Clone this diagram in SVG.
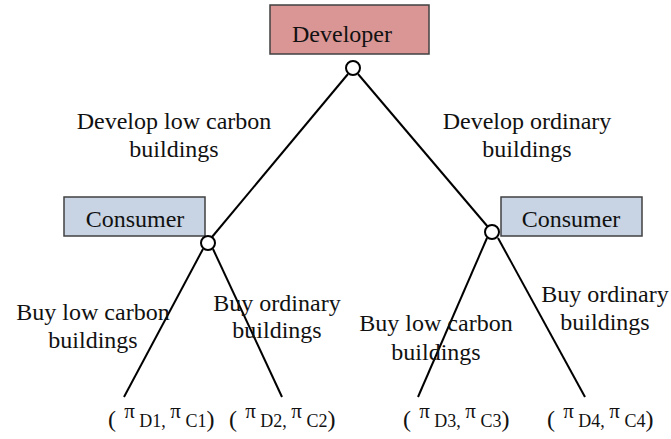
<svg xmlns="http://www.w3.org/2000/svg" width="671" height="439" viewBox="0 0 671 439">
<style>
.lbl{font-size:24px;text-anchor:middle;fill:#111;}
.box{stroke:#404040;stroke-width:1.5;}
.node{fill:#fff;stroke:#000;stroke-width:2;}
.edge{stroke:#000;stroke-width:2;fill:none;}
.leaf{font-size:24px;fill:#111;}
.g{font-size:21px;}
.s{font-size:18px;}
</style>
<rect width="671" height="439" fill="#fff"/>
<g id="connectors">
<line class="edge" x1="348" y1="74" x2="212" y2="237"/>
<line class="edge" x1="358" y1="74" x2="488" y2="227"/>
<line class="edge" x1="203" y1="249" x2="124" y2="397"/>
<line class="edge" x1="213" y1="249" x2="282" y2="397"/>
<line class="edge" x1="487" y1="238" x2="418" y2="397"/>
<line class="edge" x1="498" y1="238" x2="585" y2="397"/>
</g>
<g id="developer">
<rect class="box" x="270" y="5" width="159" height="49" fill="#D99694"/>
<text class="lbl" font-family="Liberation Serif" x="342" y="42">Developer</text>
<circle class="node" cx="353" cy="68" r="7"/>
</g>
<g id="consumer-left">
<rect class="box" x="64" y="197" width="141" height="39" fill="#C8D4E4"/>
<text class="lbl" font-family="Liberation Serif" x="135" y="227">Consumer</text>
<circle class="node" cx="208" cy="243" r="7"/>
</g>
<g id="consumer-right">
<rect class="box" x="501" y="197" width="141" height="39" fill="#C8D4E4"/>
<text class="lbl" font-family="Liberation Serif" x="571" y="227">Consumer</text>
<circle class="node" cx="492" cy="232" r="7"/>
</g>
<g id="branch-labels" font-family="Liberation Serif">
<text class="lbl" x="174" y="129">Develop low carbon</text>
<text class="lbl" x="174" y="157">buildings</text>
<text class="lbl" x="527" y="129">Develop ordinary</text>
<text class="lbl" x="527" y="157">buildings</text>
<text class="lbl" x="93" y="320">Buy low carbon</text>
<text class="lbl" x="93" y="348">buildings</text>
<text class="lbl" x="277" y="311">Buy ordinary</text>
<text class="lbl" x="277" y="338">buildings</text>
<text class="lbl" x="436" y="331">Buy low carbon</text>
<text class="lbl" x="436" y="360">buildings</text>
<text class="lbl" x="605" y="302">Buy ordinary</text>
<text class="lbl" x="605" y="330">buildings</text>
</g>
<g id="payoffs" font-family="Liberation Serif">
<text class="leaf" x="108" y="427">(<tspan class="g" dx="3" dy="-9"> π</tspan><tspan class="s" dy="9"> D1, </tspan><tspan class="g" dy="-9">π</tspan><tspan class="s" dy="9"> C1</tspan>)</text>
<text class="leaf" x="229" y="427">(<tspan class="g" dx="3" dy="-9"> π</tspan><tspan class="s" dy="9"> D2, </tspan><tspan class="g" dy="-9">π</tspan><tspan class="s" dy="9"> C2</tspan>)</text>
<text class="leaf" x="403" y="427">(<tspan class="g" dx="3" dy="-9"> π</tspan><tspan class="s" dy="9"> D3, </tspan><tspan class="g" dy="-9">π</tspan><tspan class="s" dy="9"> C3</tspan>)</text>
<text class="leaf" x="547" y="427">(<tspan class="g" dx="3" dy="-9"> π</tspan><tspan class="s" dy="9"> D4, </tspan><tspan class="g" dy="-9">π</tspan><tspan class="s" dy="9"> C4</tspan>)</text>
</g>
</svg>
